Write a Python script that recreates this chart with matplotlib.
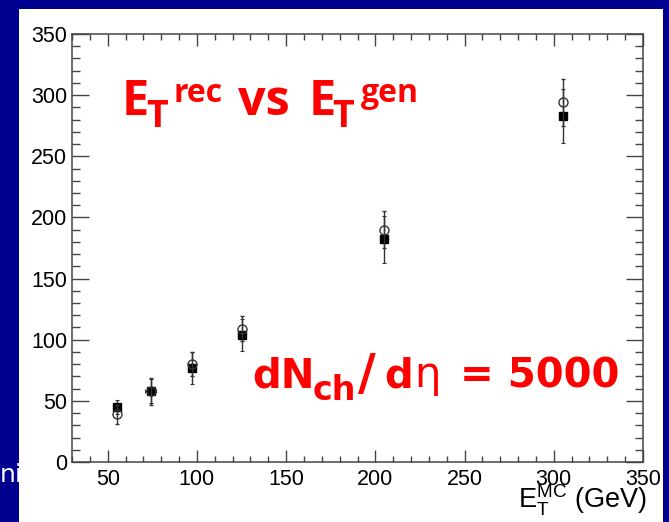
import matplotlib
matplotlib.use('Agg')
import matplotlib.pyplot as plt
from matplotlib.patches import Rectangle

# E_T^MC bins (GeV)
et_mc = [55, 74, 97, 125, 205, 305]

# open circles
circ_y = [39, 58, 80, 109, 190, 294]
circ_err = [8, 11, 10, 10, 15, 19]

# filled squares
sq_y = [45, 58, 77, 104, 182, 283]
sq_err = [6, 10, 13, 13, 19, 22]
sq_xerr = [2, 3, 2, 2, 2, 2]

W, H = 669, 522
plt.rcParams['mathtext.rm'] = 'Liberation Sans'
plt.rcParams['mathtext.it'] = 'Liberation Sans:italic'

fig = plt.figure(figsize=(W / 100, H / 100), dpi=100, facecolor='#000090')

# white slide panel
fig.patches.append(Rectangle((19 / W, 0), (663 - 19) / W, 1 - 9 / H,
                             transform=fig.transFigure, facecolor='white',
                             edgecolor='none', zorder=-5))

ax = fig.add_axes([72 / W, 1 - 462 / H, (643 - 72) / W, (462 - 34) / H])
ax.set_facecolor('white')

ax.errorbar(et_mc, sq_y, yerr=sq_err, xerr=sq_xerr, fmt='s', color='black',
            ecolor='#333333', elinewidth=1.0, capsize=1.5, capthick=0.8,
            markersize=6.2, zorder=3)
ax.errorbar(et_mc, circ_y, yerr=circ_err, fmt='o', mfc='none', mec='#333333',
            mew=1.0, ecolor='#333333', elinewidth=1.0, capsize=1.5,
            capthick=0.8, markersize=6.5, zorder=4)

ax.set_xlim(30, 350)
ax.set_ylim(0, 350)
ax.set_xticks(range(50, 351, 50))
ax.set_xticks(range(30, 351, 10), minor=True)
ax.set_yticks(range(0, 351, 50))
ax.set_yticks(range(0, 351, 10), minor=True)

for s in ax.spines.values():
    s.set_color('#444444')
    s.set_linewidth(1.1)

lab_font = 'Liberation Sans'
ax.tick_params(axis='both', which='both', direction='in', top=True, right=True,
               colors='#444444', labelcolor='black', width=1.0)
ax.tick_params(axis='y', which='major', length=12, pad=3.5)
ax.tick_params(axis='y', which='minor', length=6)
ax.tick_params(axis='x', which='major', length=8.5, pad=5)
ax.tick_params(axis='x', which='minor', length=4.3)
for lbl in ax.get_xticklabels() + ax.get_yticklabels():
    lbl.set_fontfamily(lab_font)
    lbl.set_fontsize(15.5)

# axis title, ROOT style at the right end
fig.text(647 / W, 1 - 509 / H, r'$\mathregular{E_T^{MC}}$ (GeV)',
         fontsize=19.5, family=lab_font, math_fontfamily='custom',
         ha='right', va='baseline', color='black')


def put(x, y, s, size, family, weight='bold'):
    # text piece placed at pixel position (x, baseline y) from top-left
    fig.text(x / W, 1 - y / H, s, fontsize=size, family=family,
             fontweight=weight, color='red', ha='left', va='baseline')


# red annotation: E_T^rec vs E_T^gen
tf = 'Open Sans'
put(122, 115, 'E', 35, tf)
put(146, 127, 'T', 27, tf)
put(173, 102, 'rec', 23, tf)
put(238, 115, 'vs', 35, tf)
put(309, 115, 'E', 35, tf)
put(332, 127, 'T', 27, tf)
put(361, 102, 'gen', 23, tf)

# red annotation: dN_ch/deta = 5000
df = 'DejaVu Sans'
put(252, 387, 'dN', 29, df)
put(313, 400, 'ch', 24, df)
put(358, 389, '/', 35, df)
put(384, 387, 'd', 29, df)
put(414, 387, 'η', 30, df, weight='normal')
put(460, 387, '= 5000', 29, df)

# cut-off slide text on the left
fig.text(0, 1 - 482 / H, 'ni', color='white', fontsize=18,
         ha='left', va='baseline')

fig.savefig('out.png', dpi=100, facecolor=fig.get_facecolor())
